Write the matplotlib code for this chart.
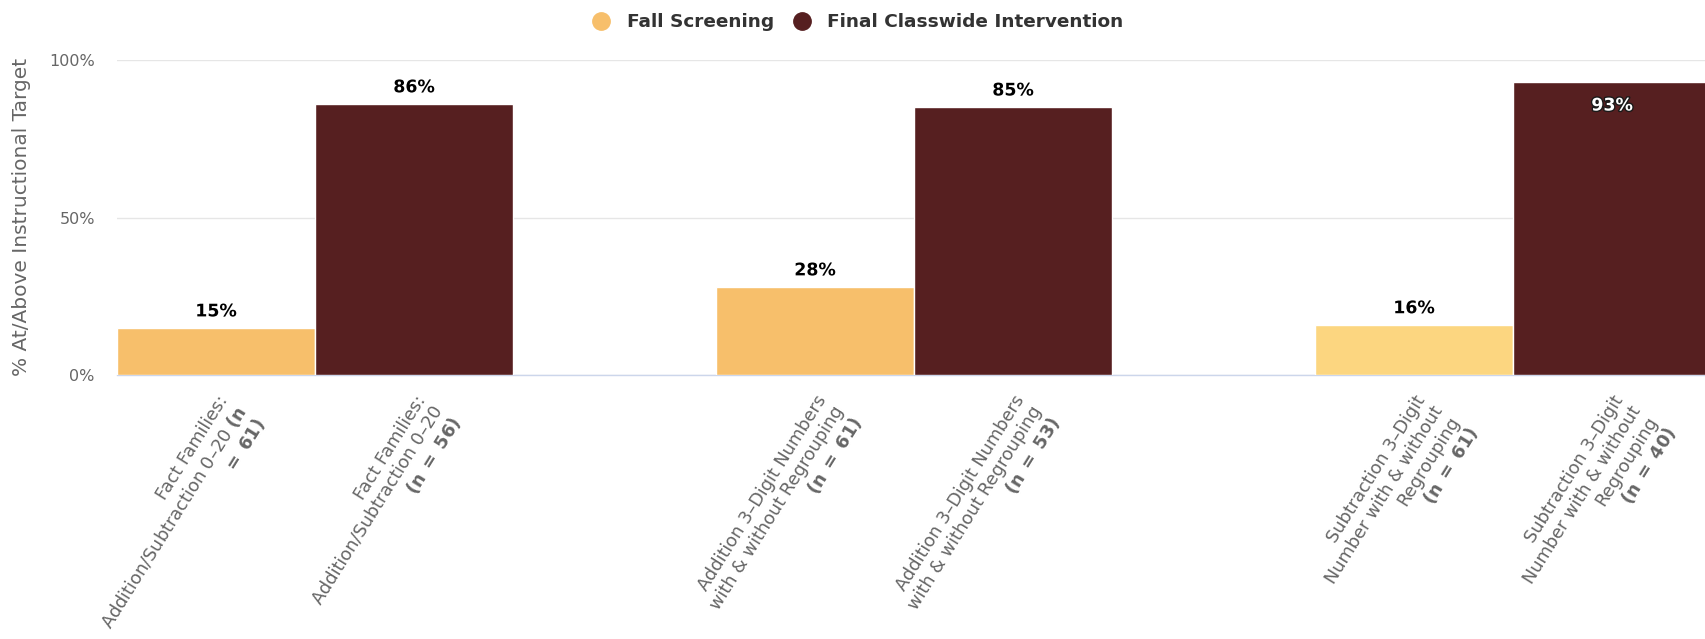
import matplotlib
matplotlib.use("Agg")
import matplotlib.pyplot as plt
import matplotlib.patheffects as pe
from matplotlib.lines import Line2D
import numpy as np

plt.rcParams["font.family"] = ["DejaVu Sans"]
plt.rcParams["mathtext.fontset"] = "custom"
plt.rcParams["mathtext.rm"] = "DejaVu Sans"
plt.rcParams["mathtext.bf"] = "DejaVu Sans:bold"

# data
series_names = ["Fall Screening", "Final Classwide Intervention"]
fall_values = [15, 28, 16]
final_values = [86, 85, 93]
N_BOLD = "$\\mathbf{(n}$ $\\mathbf{=}$ $\\mathbf{%s)}$"
fall_labels = [
    "Fact Families:\nAddition/Subtraction 0\u201320 $\\mathbf{(n}$\n$\\mathbf{=}$ $\\mathbf{61)}$",
    "Addition 3\u2013Digit Numbers\nwith & without Regrouping\n" + N_BOLD % "61",
    "Subtraction 3\u2013Digit\nNumber with & without\nRegrouping\n" + N_BOLD % "61",
]
final_labels = [
    "Fact Families:\nAddition/Subtraction 0\u201320\n" + N_BOLD % "56",
    "Addition 3\u2013Digit Numbers\nwith & without Regrouping\n" + N_BOLD % "53",
    "Subtraction 3\u2013Digit\nNumber with & without\nRegrouping\n" + N_BOLD % "40",
]
fall_colors = ["#F7BF6B", "#F7BF6B", "#FCD680"]
final_color = "#561F20"
legend_colors = ["#F7BF6B", final_color]

fig = plt.figure(figsize=(17.06, 6.39), dpi=100)
ax = fig.add_axes([117 / 1706, (639 - 375.4) / 639, 1 - 117 / 1706, (375.4 - 59.8) / 639])

groups = np.arange(len(fall_values))
w = 0.3306
x_fall = groups - w / 2
x_final = groups + w / 2

ax.bar(x_fall, fall_values, width=w, color=fall_colors, edgecolor="white", linewidth=1, zorder=3)
ax.bar(x_final, final_values, width=w, color=final_color, edgecolor="white", linewidth=1, zorder=3)

# data labels
outline_light = [pe.withStroke(linewidth=2, foreground="white")]
for xs, vals in [(x_fall, fall_values), (x_final, final_values)]:
    for x, v in zip(xs, vals):
        if v > 90:
            ax.annotate(f"{v}%", (x, v), xytext=(0, -17), textcoords="offset points",
                        ha="center", va="center", fontsize=12.5, fontweight="bold",
                        color="white", zorder=5,
                        path_effects=[pe.withStroke(linewidth=2, foreground="#1a1a1a")])
        else:
            ax.annotate(f"{v}%", (x, v), xytext=(0, 12), textcoords="offset points",
                        ha="center", va="center", fontsize=12.5, fontweight="bold",
                        color="black", zorder=5, path_effects=outline_light)

ax.set_xlim(-w, -w + 1589 / 599)
ax.set_ylim(0, 100)
ax.set_yticks([0, 50, 100])
ax.set_yticklabels(["0%", "50%", "100%"])
ax.yaxis.grid(True, color="#E6E6E6", linewidth=1)
ax.set_axisbelow(True)

ticks = []
labels = []
for i in groups:
    ticks += [x_fall[i], x_final[i]]
    labels += [fall_labels[i], final_labels[i]]
ax.set_xticks(ticks)
ax.set_xticklabels(labels, rotation=58, ha="right", va="top", rotation_mode="anchor",
                   fontsize=12.8, color="#666666", linespacing=1.14)
ax.tick_params(axis="x", length=0, pad=12)
ax.tick_params(axis="y", length=0, pad=16, labelsize=11.5, labelcolor="#666666")

for s in ["top", "right", "left"]:
    ax.spines[s].set_visible(False)
ax.spines["bottom"].set_color("#CCD6EB")
ax.spines["bottom"].set_linewidth(1)

fig.text(22 / 1706, 1 - 217 / 639, "% At/Above Instructional Target", rotation=90,
         ha="center", va="center", fontsize=14.5, color="#666666")

handles = [Line2D([], [], marker="o", linestyle="none", markersize=12.5,
                  markerfacecolor=c, markeredgecolor=c) for c in legend_colors]
leg = fig.legend(handles, series_names, loc="center", bbox_to_anchor=(0.5, 1 - 22 / 639),
                 ncol=2, frameon=False, fontsize=13.3, handletextpad=0.4, columnspacing=0.5)
for t in leg.get_texts():
    t.set_fontweight("bold")
    t.set_color("#333333")

fig.savefig("out.png", dpi=100)
